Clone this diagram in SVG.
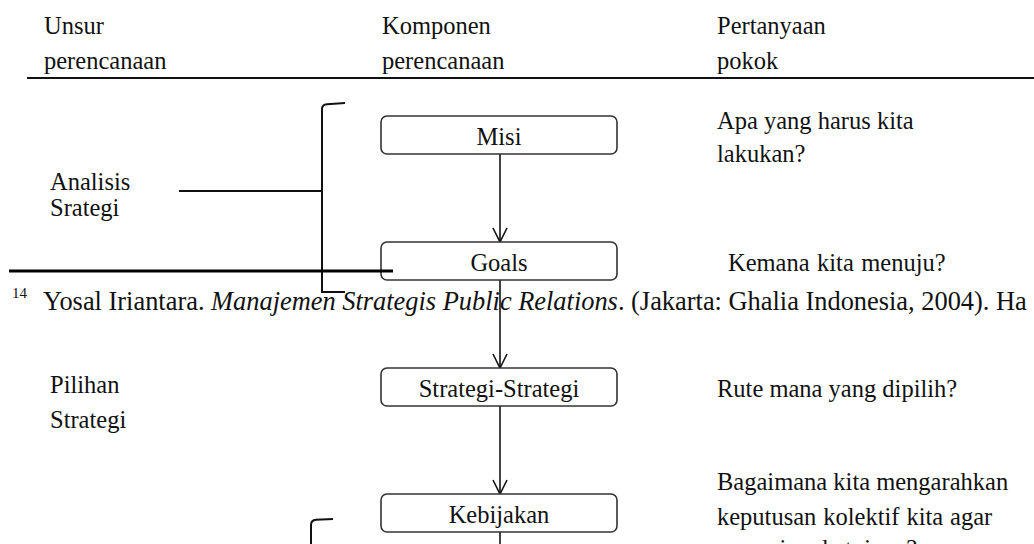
<svg xmlns="http://www.w3.org/2000/svg" width="1034" height="544" viewBox="0 0 1034 544">
<defs>
<style>
.t{font-family:"Liberation Serif","Times New Roman",serif;font-size:24.5px;fill:#111}
.c{text-anchor:middle}
.fn{font-family:"Liberation Serif","Times New Roman",serif;font-size:26.4px;fill:#111}
.sup{font-family:"Liberation Serif","Times New Roman",serif;font-size:15px;fill:#111}
.box{fill:#fff;stroke:#333;stroke-width:1.6}
.ln{fill:none;stroke:#111;stroke-width:1.6}
.br{fill:none;stroke:#111;stroke-width:2}
</style>
<marker id="ah" viewBox="0 0 16 16" refX="15" refY="8" markerWidth="16" markerHeight="16" markerUnits="userSpaceOnUse" orient="auto">
<path d="M1,1 L15,8 L1,15" fill="none" stroke="#111" stroke-width="1.6"/>
</marker>
</defs>
<rect width="1034" height="544" fill="#fff"/>

<g id="header">
<text class="t" x="44" y="34">Unsur</text>
<text class="t" x="44" y="69">perencanaan</text>
<text class="t" x="382" y="34">Komponen</text>
<text class="t" x="382" y="69">perencanaan</text>
<text class="t" x="717" y="34">Pertanyaan</text>
<text class="t" x="717" y="69">pokok</text>
<line x1="27" y1="78" x2="1034" y2="78" stroke="#111" stroke-width="2.2"/>
</g>

<g id="connectors">
<line class="ln" x1="500" y1="154" x2="500" y2="242" marker-end="url(#ah)"/>
<line class="ln" x1="500" y1="280" x2="500" y2="368" marker-end="url(#ah)"/>
<line class="ln" x1="500" y1="406" x2="500" y2="494" marker-end="url(#ah)"/>
<line class="ln" x1="500" y1="532" x2="500" y2="544"/>
</g>

<g id="misi">
<rect class="box" x="381" y="116" width="236" height="38" rx="6"/>
<text class="t c" x="499" y="145">Misi</text>
</g>
<g id="goals">
<rect class="box" x="381" y="242" width="236" height="38" rx="6"/>
<text class="t c" x="499" y="271">Goals</text>
</g>
<g id="strategi">
<rect class="box" x="381" y="368" width="236" height="38" rx="6"/>
<text class="t c" x="499" y="397">Strategi-Strategi</text>
</g>
<g id="kebijakan">
<rect class="box" x="381" y="494" width="236" height="38" rx="6"/>
<text class="t c" x="499" y="523">Kebijakan</text>
</g>

<g id="analisis">
<text class="t" x="50" y="190">Analisis</text>
<text class="t" x="50" y="216">Srategi</text>
<path class="br" d="M345,103 L327,104.2 Q322,104.6 322,109 L322,292 L345,292"/>
<line class="br" x1="179" y1="191" x2="322" y2="191"/>
</g>

<g id="pilihan">
<text class="t" x="50" y="393">Pilihan</text>
<text class="t" x="50" y="428">Strategi</text>
</g>

<g id="bracket2">
<path class="br" d="M333,519 L316,519.8 Q311,520.2 311,525 L311,544"/>
</g>

<g id="questions">
<text class="t" x="717" y="129">Apa yang harus kita</text>
<text class="t" x="717" y="162">lakukan?</text>
<text class="t" x="728" y="271" word-spacing="1.3">Kemana kita menuju?</text>
<text class="t" x="717" y="397">Rute mana yang dipilih?</text>
<text class="t" x="717" y="490">Bagaimana kita mengarahkan</text>
<text class="t" x="717" y="525" word-spacing="0.8">keputusan kolektif kita agar</text>
<text class="t" x="717" y="557">sampai pada tujuan?</text>
</g>

<g id="footnote">
<line x1="9" y1="271" x2="393" y2="271" stroke="#000" stroke-width="3"/>
<text class="sup" x="12" y="298">14</text>
<text class="fn" x="43" y="310">Yosal Iriantara. <tspan font-style="italic">Manajemen Strategis Public Relations</tspan>. (Jakarta: Ghalia Indonesia, 2004). Ha</text>
</g>
</svg>
